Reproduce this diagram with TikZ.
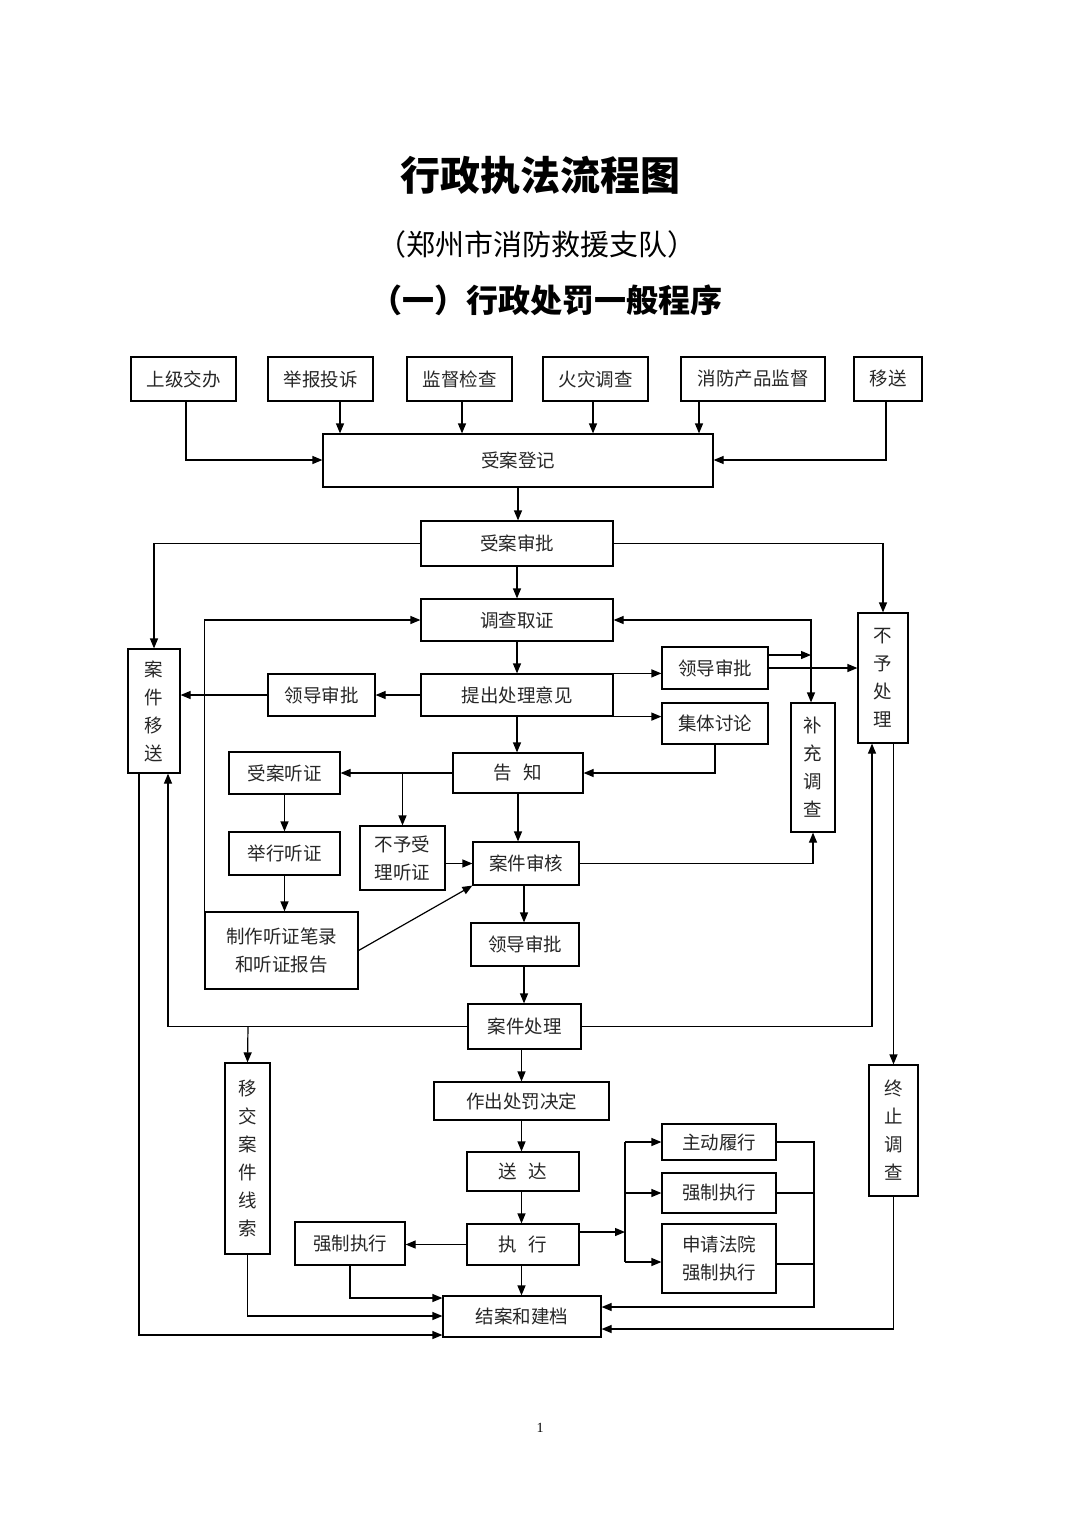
\documentclass[tikz,border=0pt]{standalone}
\usepackage{fontspec}
\setmainfont{Liberation Serif}
\newfontfamily\cjk{Noto Sans CJK SC}
\usetikzlibrary{arrows.meta}
\tikzset{
  box/.style={draw, line width=1.2pt, inner sep=0pt, align=center, text=black!85,
    font=\cjk\fontsize{18.5}{28}\selectfont},
  ln/.style={line width=1.2pt},
  arr/.style={line width=1.2pt, -{Triangle[length=10pt,width=8pt]}},
  arrb/.style={line width=1.2pt, {Triangle[length=10pt,width=8pt]}-{Triangle[length=10pt,width=8pt]}}
}
\newcommand\mybox[6]{\node[box,minimum width={(#4-#2)*1pt},minimum height={(#5-#3)*1pt}] (#1) at ({(#2+#4)/2},{(#3+#5)/2}) {#6};}
\begin{document}
\begin{tikzpicture}[x=1pt,y=-1pt]
\useasboundingbox (0,0) rectangle (1080,1528);
% titles
\node[font=\cjk\bfseries\fontsize{40}{40}\selectfont] (t1) at (540,175) {行政执法流程图};
\node[font=\cjk\fontsize{29}{29}\selectfont] (t2) at (537,244) {（郑州市消防救援支队）};
\node[font=\cjk\bfseries\fontsize{32}{32}\selectfont] (t3) at (546,300) {（一）行政处罚一般程序};
\node[font=\fontsize{14}{14}\selectfont] (pg) at (540,1428) {1};
% boxes
\mybox{s1}{131}{357}{236}{401}{上级交办}
\mybox{s2}{268}{357}{373}{401}{举报投诉}
\mybox{s3}{407}{357}{512}{401}{监督检查}
\mybox{s4}{543}{357}{648}{401}{火灾调查}
\mybox{s5}{681}{357}{825}{401}{消防产品监督}
\mybox{s6}{854}{357}{922}{401}{移送}
\mybox{dj}{323}{434}{713}{487}{受案登记}
\mybox{sp}{421}{521}{613}{566}{受案审批}
\mybox{dc}{421}{599}{613}{641}{调查取证}
\mybox{tc}{421}{674}{613}{716}{提出处理意见}
\mybox{ldL}{268}{674}{375}{716}{领导审批}
\mybox{ldR}{662}{647}{768}{689}{领导审批}
\mybox{jt}{662}{703}{768}{744}{集体讨论}
\mybox{ajys}{128}{649}{180}{773}{案\\件\\移\\送}
\mybox{byR}{858}{613}{908}{743}{不\\予\\处\\理}
\mybox{bc}{791}{703}{835}{832}{补\\充\\调\\查}
\mybox{gz}{453}{753}{583}{793}{告\hspace{0.6em}知}
\mybox{satz}{229}{752}{340}{794}{受案听证}
\mybox{jxtz}{229}{832}{340}{875}{举行听证}
\mybox{zz}{205}{912}{358}{989}{制作听证笔录\\和听证报告}
\mybox{bysl}{360}{826}{445}{890}{不予受\\理听证}
\mybox{ajsh}{473}{842}{579}{885}{案件审核}
\mybox{ldM}{471}{923}{579}{966}{领导审批}
\mybox{ajcl}{468}{1004}{581}{1049}{案件处理}
\mybox{zc}{434}{1082}{609}{1120}{作出处罚决定}
\mybox{sd}{467}{1152}{579}{1191}{送\hspace{0.6em}达}
\mybox{zx}{467}{1224}{579}{1265}{执\hspace{0.6em}行}
\mybox{qzL}{295}{1222}{405}{1265}{强制执行}
\mybox{zd}{662}{1124}{776}{1160}{主动履行}
\mybox{qzR}{662}{1173}{776}{1213}{强制执行}
\mybox{sq}{662}{1224}{776}{1293}{申请法院\\强制执行}
\mybox{ja}{443}{1296}{601}{1337}{结案和建档}
\mybox{yj}{225}{1063}{270}{1254}{移\\交\\案\\件\\线\\索}
\mybox{zzdc}{869}{1065}{918}{1196}{终\\止\\调\\查}
% connectors: top
\draw[arr] (s1.south -| 186,0) |- (dj.west |- 0,460);
\draw[arr] (s2.south -| 340,0) -- (340,0 |- dj.north);
\draw[arr] (s3.south -| 462,0) -- (462,0 |- dj.north);
\draw[arr] (s4.south -| 593,0) -- (593,0 |- dj.north);
\draw[arr] (s5.south -| 699,0) -- (699,0 |- dj.north);
\draw[arr] (s6.south -| 886,0) |- (dj.east |- 0,460);
\draw[arr] (dj.south) -- (dj.south |- sp.north);
\draw[arr] (sp.west) -| (ajys.north);
\draw[arr] (sp.east) -| (byR.north);
\draw[arr] (sp.south) -- (sp.south |- dc.north);
\draw[arr] (zz.north west) |- (dc.west);
\draw[arrb] (dc.east) -| (811,0 |- bc.north);
\draw[arr] (ldR.east |- 0,655) -- (811,655);
\draw[arr] (ldR.east |- 0,668) -- (byR.west |- 0,668);
\draw[arr] (dc.south) -- (dc.south |- tc.north);
\draw[arr] (tc.west) -- (ldL.east);
\draw[arr] (ldL.west) -- (ajys.east |- ldL.west);
\draw[arr] (tc.north east) -- (ldR.west |- tc.north east);
\draw[arr] (tc.south east) -- (jt.west |- tc.south east);
\draw[arr] (jt.south) |- (gz.east);
\draw[arr] (tc.south) -- (tc.south |- gz.north);
\draw[arr] (gz.west) -- (satz.east |- gz.west);
\draw[arr] (bysl.north |- gz.west) -- (bysl.north);
\draw[arr] (satz.south) -- (satz.south |- jxtz.north);
\draw[arr] (jxtz.south) -- (jxtz.south |- zz.north);
\draw[arr] (bysl.east |- ajsh.west) -- (ajsh.west);
\draw[arr] (gz.south) -- (gz.south |- ajsh.north);
\draw[arr] (zz.east) -- (ajsh.south west);
\draw[arr] (ajsh.east) -| (bc.south);
\draw[arr] (524,0 |- ajsh.south) -- (524,0 |- ldM.north);
\draw[arr] (524,0 |- ldM.south) -- (524,0 |- ajcl.north);
\draw[arr] (ajcl.west) -| (168,0 |- ajys.south);
\draw[arr] (248,0 |- ajcl.west) -- (yj.north);
\draw[arr] (ajcl.east) -| (872,0 |- byR.south);
\draw[arr] (zzdc.north |- byR.south) -- (zzdc.north);
\draw[arr] (139,0 |- ajys.south) |- (ja.west |- 0,1335);
\draw[arr] (zc.north |- ajcl.south) -- (zc.north);
\draw[arr] (zc.south) -- (zc.south |- sd.north);
\draw[arr] (zc.south |- sd.south) -- (zc.south |- zx.north);
\draw[arr] (zx.west) -- (qzL.east |- zx.west);
\coordinate (v0) at (625,1232);
\coordinate (v1) at (625,1142);
\coordinate (v2) at (625,1262);
\draw[arr] (zx.east |- v0) -- (v0);
\draw[ln] (v1) -- (v2);
\draw[arr] (v1) -- (zd.west |- v1);
\draw[arr] (v1 |- qzR.west) -- (qzR.west);
\draw[arr] (v2) -- (sq.west |- v2);
\coordinate (rr) at (814,1307);
\draw[arr] (zd.east) -| (rr) -- (ja.east |- rr);
\draw[ln] (qzR.east) -- (qzR.east -| rr);
\draw[ln] (sq.east |- 0,1264) -- (rr |- 0,1264);
\draw[arr] (zzdc.south) |- (ja.east |- 0,1329);
\draw[arr] (zc.south |- zx.south) -- (zc.south |- ja.north);
\draw[arr] (qzL.south) |- (ja.west |- 0,1298);
\draw[arr] (yj.south) |- (ja.west |- 0,1316);
\end{tikzpicture}
\end{document}
